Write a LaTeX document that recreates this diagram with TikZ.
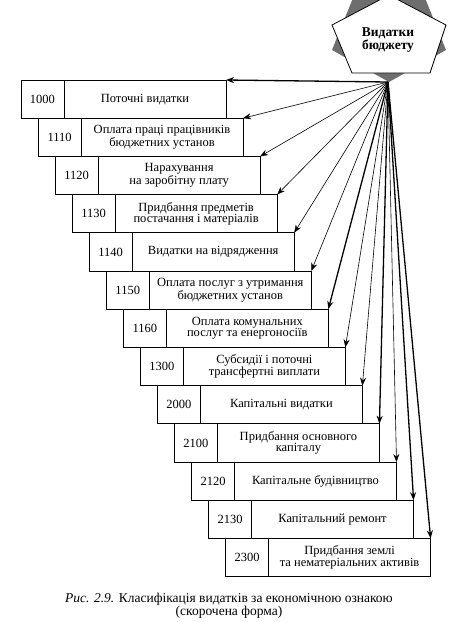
\documentclass[tikz,border=0pt]{standalone}
\usepackage{fontspec}
\setmainfont{Liberation Serif}
\usetikzlibrary{arrows.meta, positioning}
\definecolor{cshade}{HTML}{6E6E6E}
\tikzset{
  every picture/.style={x=1pt, y=-1pt, line width=0.9pt},
  code/.style={draw, minimum width=43pt, minimum height=38.2pt, inner sep=0pt, outer sep=0pt, anchor=north west, font=\fontsize{12.5}{11.5}\selectfont},
  desc/.style={draw, minimum width=162pt, minimum height=38.2pt, inner sep=0pt, outer sep=0pt, align=center, font=\fontsize{12.5}{11.5}\selectfont},
  arrow/.style={-{Stealth[length=8pt, width=6pt]}, line width=0.6pt},
  fat/.style={line width=1.3pt},
  caption/.style={align=center, font=\fontsize{13.5}{12}\selectfont},
}

\begin{document}
\begin{tikzpicture}
  \useasboundingbox (0,0) rectangle (461,622);
  % budget: shaded star behind a white pentagon
  \fill[cshade] (389,82) -- (332,50) -- (353,-2) -- (425,-2) -- (446,50) -- cycle;
  \draw[fill=white, line width=0.8pt] (389,-5) -- (446,25) -- (430,73) -- (352,73) -- (332,25) -- cycle;
  \node[font=\fontsize{13.5}{11}\selectfont\bfseries, align=center] (budget) at (388,40) {Видатки\\бюджету};
  \coordinate (src) at (388,82);
  % staircase of expenditure codes
  \node[code] (c1000) at (21,80) {1000};
  \node[desc, right=0pt of c1000] (d1000) {Поточні видатки};
  \node[code] (c1110) at ([xshift=17.05pt]c1000.south west) {1110};
  \node[desc, right=0pt of c1110] (d1110) {Оплата праці працівників\\бюджетних установ};
  \node[code] (c1120) at ([xshift=17.05pt]c1110.south west) {1120};
  \node[desc, right=0pt of c1120] (d1120) {Нарахування\\на заробітну плату};
  \node[code] (c1130) at ([xshift=17.05pt]c1120.south west) {1130};
  \node[desc, right=0pt of c1130] (d1130) {Придбання предметів\\постачання і матеріалів};
  \node[code] (c1140) at ([xshift=17.05pt]c1130.south west) {1140};
  \node[desc, right=0pt of c1140] (d1140) {Видатки на відрядження};
  \node[code] (c1150) at ([xshift=17.05pt]c1140.south west) {1150};
  \node[desc, right=0pt of c1150] (d1150) {Оплата послуг з утримання\\бюджетних установ};
  \node[code] (c1160) at ([xshift=17.05pt]c1150.south west) {1160};
  \node[desc, right=0pt of c1160] (d1160) {Оплата комунальних\\послуг та енергоносіїв};
  \node[code] (c1300) at ([xshift=17.05pt]c1160.south west) {1300};
  \node[desc, right=0pt of c1300] (d1300) {Субсидії і поточні\\трансфертні виплати};
  \node[code] (c2000) at ([xshift=17.05pt]c1300.south west) {2000};
  \node[desc, right=0pt of c2000] (d2000) {Капітальні видатки};
  \node[code] (c2100) at ([xshift=17.05pt]c2000.south west) {2100};
  \node[desc, right=0pt of c2100] (d2100) {Придбання основного\\капіталу};
  \node[code] (c2120) at ([xshift=17.05pt]c2100.south west) {2120};
  \node[desc, right=0pt of c2120] (d2120) {Капітальне будівництво};
  \node[code] (c2130) at ([xshift=17.05pt]c2120.south west) {2130};
  \node[desc, right=0pt of c2130] (d2130) {Капітальний ремонт};
  \node[code] (c2300) at ([xshift=17.05pt]c2130.south west) {2300};
  \node[desc, right=0pt of c2300] (d2300) {Придбання землі\\та нематеріальних активів};
  % fan of arrows
  \draw[arrow, fat] (src) -- (d1000.north east);
  \draw[arrow] (src) -- (d1110.north east);
  \draw[arrow] (src) -- (d1120.north east);
  \draw[arrow] (src) -- (d1130.north east);
  \draw[arrow] (src) -- (d1140.north east);
  \draw[arrow] (src) -- (d1150.north east);
  \draw[arrow, fat] (src) -- (d1160.north east);
  \draw[arrow] (src) -- (d1300.north east);
  \draw[arrow] (src) -- (d2000.north east);
  \draw[arrow, fat] (src) -- (d2100.north east);
  \draw[arrow] (src) -- (d2120.north east);
  \draw[arrow, fat] (src) -- (d2130.north east);
  \draw[arrow, fat] (src) -- (d2300.north east);
  \node[caption] (cap) at (229,606) {\textit{Рис. 2.9.} Класифікація видатків за економічною ознакою\\(скорочена форма)};
\end{tikzpicture}
\end{document}
